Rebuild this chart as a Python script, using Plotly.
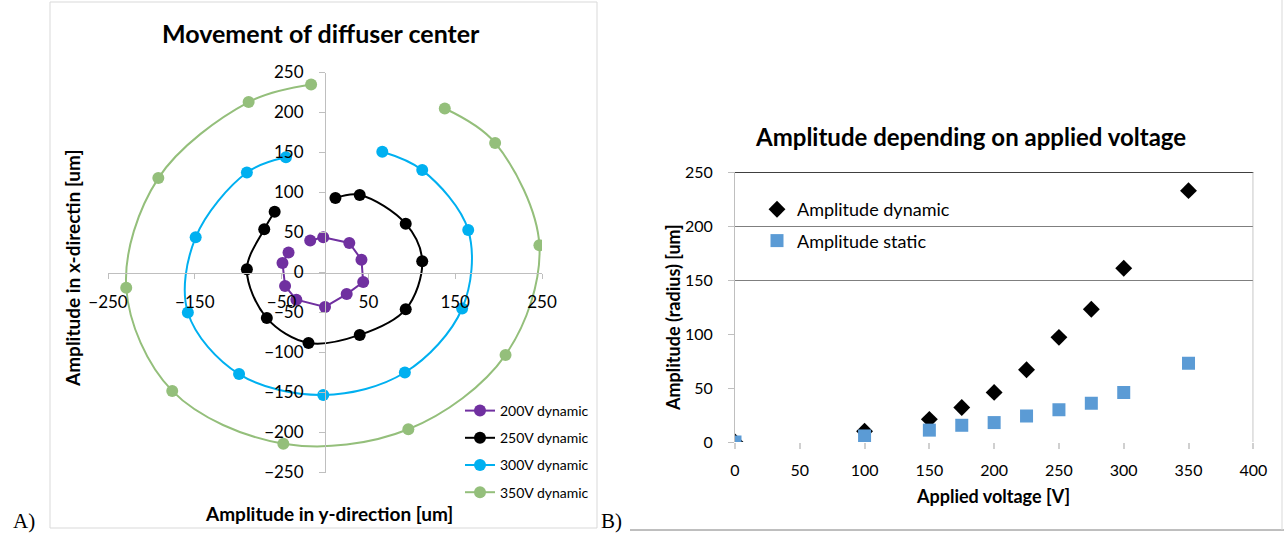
import plotly.graph_objects as go

W, H = 1284, 535

# ---------------- Panel A data (horizontal: y-direction, vertical: x-direction) ----------------
series_names = ["200V dynamic", "250V dynamic", "300V dynamic", "350V dynamic"]
a200_ydir = [-17, -2, 28, 42, 44, 25, 0, -33, -46, -49, -42]
a200_xdir = [40, 44, 37, 16, -12, -27, -43, -34, -17, 12, 25]
a250_ydir = [12, 40, 93, 112, 93, 40, -19, -67, -90, -70, -58]
a250_xdir = [93, 97, 61, 14, -46, -78, -88, -57, 4, 54, 76]
a300_ydir = [66, 112, 165, 158, 92, -2, -99, -158, -149, -90, -45]
a300_xdir = [151, 128, 53, -45, -125, -153, -127, -50, 44, 125, 144]
a350_ydir = [138, 196, 247, 208, 96, -48, -176, -229, -192, -88, -16]
a350_xdir = [205, 162, 34, -103, -196, -214, -148, -19, 118, 213, 235]
a_xticks = [-250, -150, -50, 50, 150, 250]

# ---------------- Panel B data ----------------
voltage = [0, 100, 150, 175, 200, 225, 250, 275, 300, 350]
amp_dynamic = [0, 10, 21, 32, 46, 67, 97, 123, 161, 233]
amp_static = [0, 5.6, 11, 15.5, 18, 24, 30, 36, 46, 73]

FONT = "Lato"
colors_a = ["#7030A0", "#000000", "#00B0F0", "#94BF7B"]
shapes_a = ["linear", "spline", "spline", "spline"]

fig = go.Figure()
data_a = [(a200_ydir, a200_xdir), (a250_ydir, a250_xdir), (a300_ydir, a300_xdir), (a350_ydir, a350_xdir)]
for i, (xs, ys) in enumerate(data_a):
    fig.add_trace(go.Scatter(
        x=xs, y=ys, mode="lines+markers", name=series_names[i],
        line=dict(color=colors_a[i], width=2, shape=shapes_a[i], smoothing=1.0),
        marker=dict(color=colors_a[i], size=12, symbol="circle"),
        xaxis="x", yaxis="y", legend="legend", legendgroup=series_names[i],
    ))

fig.add_trace(go.Scatter(
    x=voltage, y=amp_dynamic, mode="markers", name="Amplitude dynamic",
    marker=dict(color="#000000", size=13, symbol="diamond"),
    xaxis="x2", yaxis="y2", legend="legend2", legendgroup="dyn",
))
fig.add_trace(go.Scatter(
    x=voltage, y=amp_static, mode="markers", name="Amplitude static",
    marker=dict(color="#5B9BD5", size=13, symbol="square"),
    xaxis="x2", yaxis="y2", legend="legend2", legendgroup="stat",
))
# helper trace for grid axis
fig.add_trace(go.Scatter(x=[], y=[], xaxis="x2", yaxis="y3", showlegend=False, hoverinfo="skip"))

tickfont_a = dict(family=FONT, size=17, color="#000000")
tickfont_b = dict(family=FONT, size=16, color="#000000")

fig.update_layout(
    template="none",
    width=W, height=H, autosize=False,
    margin=dict(l=0, r=0, t=0, b=0, pad=0, autoexpand=False),
    paper_bgcolor="white", plot_bgcolor="rgba(0,0,0,0)",
    font=dict(family=FONT, color="#000000"),
    hovermode="closest",
    xaxis=dict(
        domain=[108 / W, 542 / W], range=[-250, 250], anchor="free", position=1 - 272.5 / H,
        tickvals=a_xticks, showline=True, linecolor="#BFBFBF", linewidth=1,
        ticks="outside", ticklen=5, tickcolor="#BFBFBF", showgrid=False, zeroline=False,
        tickfont=tickfont_a, ticklabelstandoff=9, automargin=False,
    ),
    yaxis=dict(
        domain=[1 - 472.5 / H, 1 - 72.5 / H], range=[-250, 250], anchor="free", position=325 / W,
        tick0=0, dtick=50, showline=True, linecolor="#BFBFBF", linewidth=1,
        ticks="outside", ticklen=6, tickcolor="#BFBFBF", showgrid=False, zeroline=False,
        tickfont=tickfont_a, ticklabelstandoff=12, automargin=False,
    ),
    xaxis2=dict(
        domain=[735 / W, 1253.3 / W], range=[0, 400], anchor="y2", tick0=0, dtick=50,
        showline=False, ticks="outside", ticklen=6, tickwidth=2, tickcolor="#D0D0D0",
        showgrid=False, zeroline=False, tickfont=tickfont_b, ticklabelstandoff=8,
        automargin=False,
    ),
    yaxis2=dict(
        domain=[1 - 442 / H, 1 - 172.3 / H], range=[0, 250], anchor="x2", tick0=0, dtick=50,
        showline=True, linecolor="#BFBFBF", linewidth=1, ticks="outside", ticklen=6,
        tickcolor="#BFBFBF", showgrid=False, zeroline=False, tickfont=tickfont_b,
        ticklabelstandoff=12, automargin=False,
    ),
    yaxis3=dict(
        domain=[1 - 442 / H, 1 - 172.3 / H], range=[0, 250], anchor="x2", overlaying="y2",
        tickvals=[150, 200], showgrid=True, gridcolor="#7F7F7F", gridwidth=1,
        showticklabels=False, ticks="", showline=False, zeroline=False, automargin=False,
    ),
    legend=dict(
        x=460 / W, y=1 - 395 / H, xanchor="left", yanchor="top",
        bgcolor="rgba(0,0,0,0)", font=dict(family=FONT, size=14, color="#000000"),
        tracegroupgap=6, itemwidth=30,
    ),
    legend2=dict(
        x=757 / W, y=1 - 191 / H, xanchor="left", yanchor="top",
        bgcolor="rgba(0,0,0,0)", font=dict(family=FONT, size=18, color="#000000"),
        tracegroupgap=5, itemwidth=30,
    ),
    showlegend=True,
)

shapes = [
    dict(type="rect", xref="paper", yref="paper", x0=50 / W, x1=597 / W, y0=1 - 528 / H, y1=1 - 2 / H,
         line=dict(color="#D9D9D9", width=1), layer="below"),
    dict(type="line", xref="x2 domain", yref="y2", x0=0, x1=1, y0=250, y1=250,
         line=dict(color="#000000", width=1.3)),
    dict(type="line", xref="x2", yref="y2 domain", x0=400, x1=400, y0=0, y1=1,
         line=dict(color="#A6A6A6", width=1.3)),
    dict(type="line", xref="paper", yref="paper", x0=630 / W, x1=1, y0=1 - 530 / H, y1=1 - 530 / H,
         line=dict(color="#7F7F7F", width=1)),
    dict(type="line", xref="paper", yref="paper", x0=1282 / W, x1=1282 / W, y0=1 - 530 / H, y1=1,
         line=dict(color="#D9D9D9", width=1)),
]
fig.update_layout(shapes=shapes)

def ann(text, x, y, size, bold=True, angle=0, family=FONT):
    return dict(text=text, x=x / W, y=1 - y / H, xref="paper", yref="paper", showarrow=False,
                xanchor="center", yanchor="middle", textangle=angle,
                font=dict(family=family, size=size, color="#000000", weight="bold" if bold else "normal"))

fig.update_layout(annotations=[
    ann("Movement of diffuser center", 321, 33, 25),
    ann("Amplitude in x-directin [um]", 72, 269, 19, angle=-90),
    ann("Amplitude in y-direction [um]", 329, 513, 19),
    ann("Amplitude depending on applied voltage", 970, 137, 24),
    ann("Amplitude (radius) [um]", 673, 318, 18, angle=-90),
    ann("Applied voltage [V]", 993, 496, 18),
    ann("A)", 24, 521, 21, bold=False, family="Liberation Serif"),
    ann("B)", 611, 521, 21, bold=False, family="Liberation Serif"),
])

fig.write_html("out.html", config={"displayModeBar": False},
               post_script="document.body.style.margin='0px';")
